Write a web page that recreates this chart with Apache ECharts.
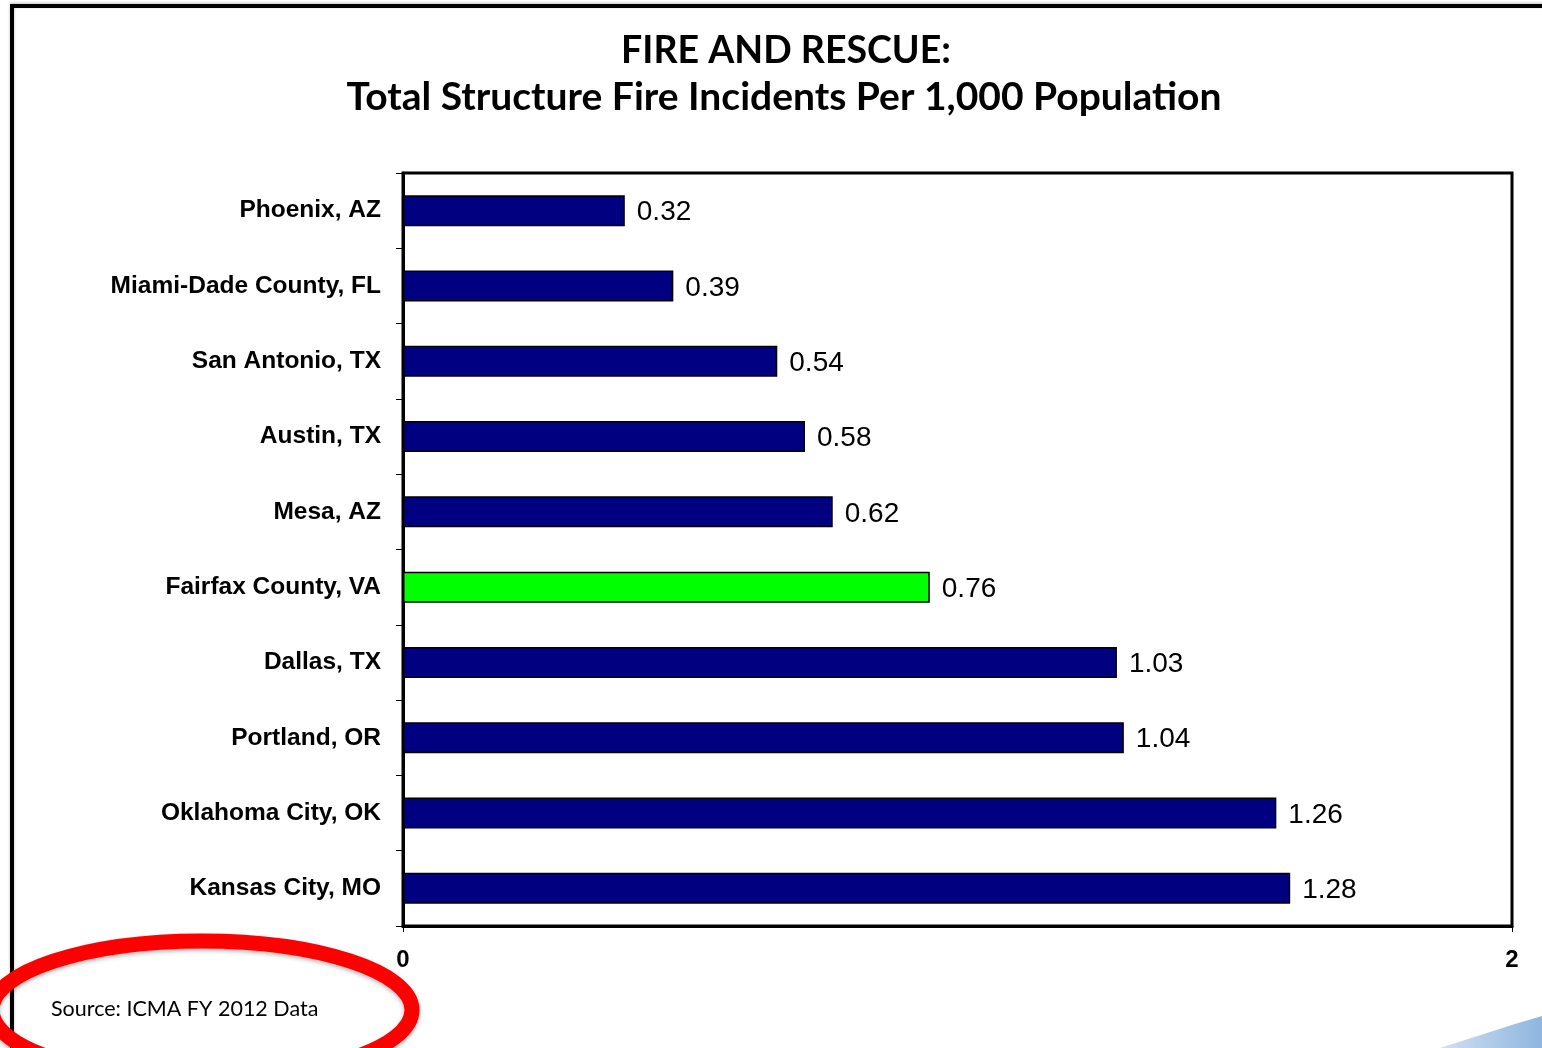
<!DOCTYPE html>
<html>
<head>
<meta charset="utf-8">
<script src="https://cdn.jsdelivr.net/npm/echarts@6/dist/echarts.min.js"></script>
<style>
html,body{margin:0;padding:0;background:#fff;}
#chart{width:1542px;height:1048px;}
</style>
</head>
<body>
<div id="chart"></div>
<script>
const categories = ["Phoenix, AZ","Miami-Dade County, FL","San Antonio, TX","Austin, TX","Mesa, AZ","Fairfax County, VA","Dallas, TX","Portland, OR","Oklahoma City, OK","Kansas City, MO"];
const values = [0.32,0.39,0.54,0.58,0.62,0.76,1.03,1.04,1.26,1.28];
const highlightCategory = "Fairfax County, VA";
const titleLine1 = "FIRE AND RESCUE:";
const titleLine2 = "Total Structure Fire Incidents Per 1,000 Population";
const sourceText = "Source: ICMA FY 2012 Data";
const axisMax = 1.6;

const chart = echarts.init(document.getElementById('chart'), null, {renderer:'canvas'});
const option = {
  backgroundColor:'#ffffff',
  animation:false,
  title:[
    {text:titleLine1,left:781,top:27,textAlign:'center',
     textStyle:{fontFamily:'Lato',fontWeight:'bold',fontSize:37.5,color:'#000'}},
    {text:titleLine2,left:779,top:73,textAlign:'center',
     textStyle:{fontFamily:'Lato',fontWeight:'bold',fontSize:39,color:'#000'}}
  ],
  grid:{left:403,right:30,top:173,bottom:122,show:true,borderColor:'#000',borderWidth:3,backgroundColor:'transparent'},
  xAxis:{
    type:'value',min:0,max:axisMax,interval:axisMax,
    axisLine:{show:true,lineStyle:{color:'#000',width:3}},
    axisTick:{show:true,length:6,lineStyle:{color:'#000',width:1}},
    splitLine:{show:false},
    axisLabel:{margin:22,fontFamily:'Liberation Sans',fontWeight:'bold',fontSize:24,color:'#000',
      formatter:function(v){return String(Math.round(v));}}
  },
  yAxis:{
    type:'category',data:categories,inverse:true,
    axisLine:{show:true,lineStyle:{color:'#000',width:3}},
    axisTick:{show:true,length:7,lineStyle:{color:'#000',width:1}},
    axisLabel:{margin:22,fontFamily:'Liberation Sans',fontWeight:'bold',fontSize:24.5,color:'#000',padding:[3,0,0,0]}
  },
  series:[{
    type:'bar',
    data:values.map(function(v,i){
      return {value:v,itemStyle:{color: categories[i]===highlightCategory ? '#00ff00' : '#000080'}};
    }),
    barWidth:31,
    itemStyle:{borderColor:'#000',borderWidth:1.5},
    label:{show:true,position:'right',distance:12,offset:[0,2],fontFamily:'Liberation Sans',fontWeight:500,fontSize:28,color:'#000',
      formatter:function(p){return p.value.toFixed(2);}}
  }],
  graphic:[
    {type:'rect',z:-10,shape:{x:12,y:6,width:1700,height:1200},
     style:{fill:'none',stroke:'#000',lineWidth:4,shadowColor:'rgba(0,0,0,0.25)',shadowBlur:3,shadowOffsetY:-1}},
    {type:'text',x:51,y:998,style:{text:sourceText,font:'21.5px Lato',fill:'#000'}},
    {type:'ellipse',shape:{cx:202,cy:1010,rx:210,ry:69},
     style:{fill:'none',stroke:'#ff0000',lineWidth:15,shadowColor:'rgba(0,0,0,0.3)',shadowBlur:4,shadowOffsetY:2}},
    {type:'polygon',shape:{points:[[1440,1048],[1465,1040],[1490,1032],[1515,1024],[1542,1016],[1542,1048]]},
     style:{fill:new echarts.graphic.LinearGradient(0,0,1,0,[{offset:0,color:'#cfe0f2'},{offset:1,color:'#8fb6df'}])}}
  ]
};
chart.setOption(option);
</script>
</body>
</html>
